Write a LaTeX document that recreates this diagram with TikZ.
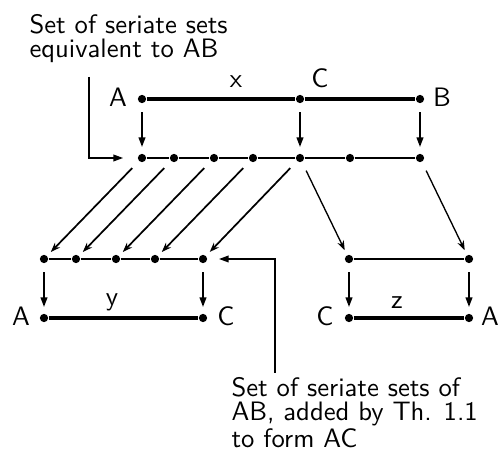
\documentclass[tikz,border=0pt]{standalone}
\usepackage{tikz}
\usetikzlibrary{arrows.meta}
\begin{document}
\sffamily
\begin{tikzpicture}[x=0.375pt,y=-0.375pt,
  dot/.style={circle,fill=black,inner sep=0pt,minimum size=3.1pt},
  lbl/.style={inner sep=0pt,font=\fontsize{10}{9}\selectfont\sffamily},
  seg/.style={line width=1.25pt},
  chain/.style={line width=0.85pt},
  drop/.style={line width=1.1pt,-{Triangle[length=3.8pt,width=2.4pt]},shorten <=3.3pt,shorten >=2.2pt},
  feed/.style={line width=0.65pt,-{Stealth[length=3.6pt,width=2.6pt]},shorten <=3.5pt,shorten >=1.9pt},
  brace/.style={line width=0.85pt,-{Triangle[length=3.8pt,width=2.4pt]}}]
\useasboundingbox (0,0) rectangle (502,456);
% segment AB with C
\node[dot] (tA) at (142,99) {};
\node[dot] (tC) at (300,99) {};
\node[dot] (tB) at (420,99) {};
\draw[seg] (tA) -- (tC) -- (tB);
\node[lbl] (tAl) at (118,97) {A};
\node[lbl] (tCl) at (320,78) {C};
\node[lbl] (tBl) at (442,97) {B};
\node[lbl,anchor=base] (tx) at (236,88) {x};
% seriate sets equivalent to AB
\foreach \i/\x in {1/142,2/174,3/214,4/253,5/300,6/350,7/420}
  \node[dot] (m\i) at (\x,158) {};
\draw[chain] (m1) -- (m2) -- (m3) -- (m4) -- (m5) -- (m6) -- (m7);
\draw[drop] (tA) -- (m1);
\draw[drop] (tC) -- (m5);
\draw[drop] (tB) -- (m7);
% segment AC
\foreach \i/\x in {1/44,2/76,3/116,4/155,5/203}
  \node[dot] (lu\i) at (\x,259) {};
\draw[chain] (lu1) -- (lu2) -- (lu3) -- (lu4) -- (lu5);
\node[dot] (lA) at (44,318) {};
\node[dot] (lC) at (203,318) {};
\draw[seg] (lA) -- (lC);
\draw[drop] (lu1) -- (lA);
\draw[drop] (lu5) -- (lC);
\node[lbl] (lAl) at (21,316) {A};
\node[lbl] (lCl) at (226,316) {C};
\node[lbl,anchor=base] (ly) at (112,306) {y};
% segment CB
\node[dot] (ru1) at (349,259) {};
\node[dot] (ru2) at (469,259) {};
\draw[chain] (ru1) -- (ru2);
\node[dot] (rC) at (349,318) {};
\node[dot] (rA) at (469,318) {};
\draw[seg] (rC) -- (rA);
\draw[drop] (ru1) -- (rC);
\draw[drop] (ru2) -- (rA);
\node[lbl] (rCl) at (325,316) {C};
\node[lbl] (rAl) at (490,316) {A};
\node[lbl,anchor=base] (rz) at (397,309) {z};
% mapping of the seriate sets
\foreach \i in {1,...,5}
  \draw[feed] (m\i) -- (lu\i);
\draw[feed,line width=0.5pt] (m5) -- (ru1);
\draw[feed,line width=0.5pt] (m7) -- (ru2);
% notes
\node[lbl,anchor=north west,align=left] (topnote) at (29,14)
  {Set of seriate sets\\equivalent to AB};
\coordinate (topfoot) at (89,77);
\draw[brace,shorten >=5.2pt] (topfoot) |- (m1);
\node[lbl,anchor=north west,align=left] (botnote) at (231,377)
  {Set of seriate sets of\\AB, added by Th. 1.1\\to form AC};
\coordinate (botfoot) at (275,373);
\draw[brace,shorten >=4.1pt] (botfoot) |- (lu5);
\end{tikzpicture}
\end{document}
